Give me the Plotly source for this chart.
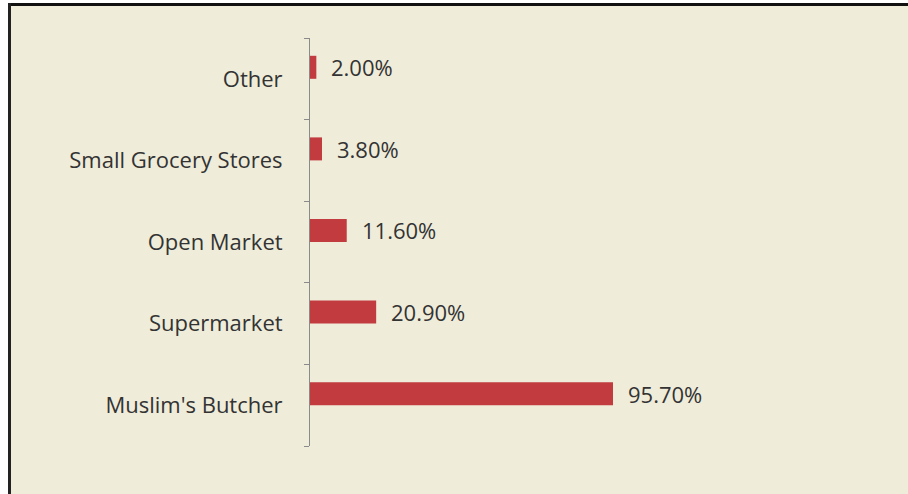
import plotly.graph_objects as go

categories = ["Muslim's Butcher", "Supermarket", "Open Market", "Small Grocery Stores", "Other"]
values = [95.7, 20.9, 11.6, 3.8, 2.0]
labels = ["95.70%", "20.90%", "11.60%", "3.80%", "2.00%"]

W, H = 908, 494
x0_px, x1_px = 310, 880
y_top, y_bot = 38, 446
xmax = 95.7 * (x1_px - x0_px) / (613 - 310)
band = (y_bot - y_top) / len(categories)
bar_w = 23 / band

fig = go.Figure()
fig.add_trace(go.Bar(
    y=categories, x=values, orientation="h",
    width=bar_w, offset=0,
    marker=dict(color="#c23b3e", line=dict(width=0)),
    hoverinfo="skip",
))
for c, v, t in zip(categories, values, labels):
    fig.add_annotation(x=v, y=c, text=t, showarrow=False, xanchor="left",
                       xshift=13, yshift=11.5,
                       font=dict(family="Open Sans", size=22, color="#333333"))

fig.update_layout(
    width=W, height=H,
    margin=dict(l=0, r=0, t=0, b=0),
    paper_bgcolor="#efecda",
    plot_bgcolor="rgba(0,0,0,0)",
    showlegend=False,
    font=dict(family="Open Sans", size=22, color="#333333"),
    xaxis=dict(domain=[x0_px / W, x1_px / W], range=[0, xmax], visible=False),
    yaxis=dict(domain=[(H - y_bot) / H, (H - y_top) / H], range=[-0.5, 4.5],
               showline=True, linecolor="#8a8a8a", linewidth=1,
               ticks="outside", tickson="boundaries", ticklen=5, tickcolor="#8a8a8a",
               ticklabelstandoff=22, showgrid=False, zeroline=False,
               categoryorder="array", categoryarray=categories),
    shapes=[
        dict(type="rect", xref="paper", yref="paper", x0=0, x1=1, y0=1 - 3 / H, y1=1,
             fillcolor="white", line=dict(width=0), layer="below"),
        dict(type="rect", xref="paper", yref="paper", x0=0, x1=8 / W, y0=0, y1=1,
             fillcolor="white", line=dict(width=0), layer="below"),
        dict(type="line", xref="paper", yref="paper", x0=8 / W, x1=1, y0=1 - 4.5 / H, y1=1 - 4.5 / H,
             line=dict(color="#111111", width=3)),
        dict(type="line", xref="paper", yref="paper", x0=9.5 / W, x1=9.5 / W, y0=0, y1=1 - 3 / H,
             line=dict(color="#222222", width=3)),
    ],
)
fig.write_html("out.html", config={"displayModeBar": False},
               post_script="document.body.style.margin='0';")
